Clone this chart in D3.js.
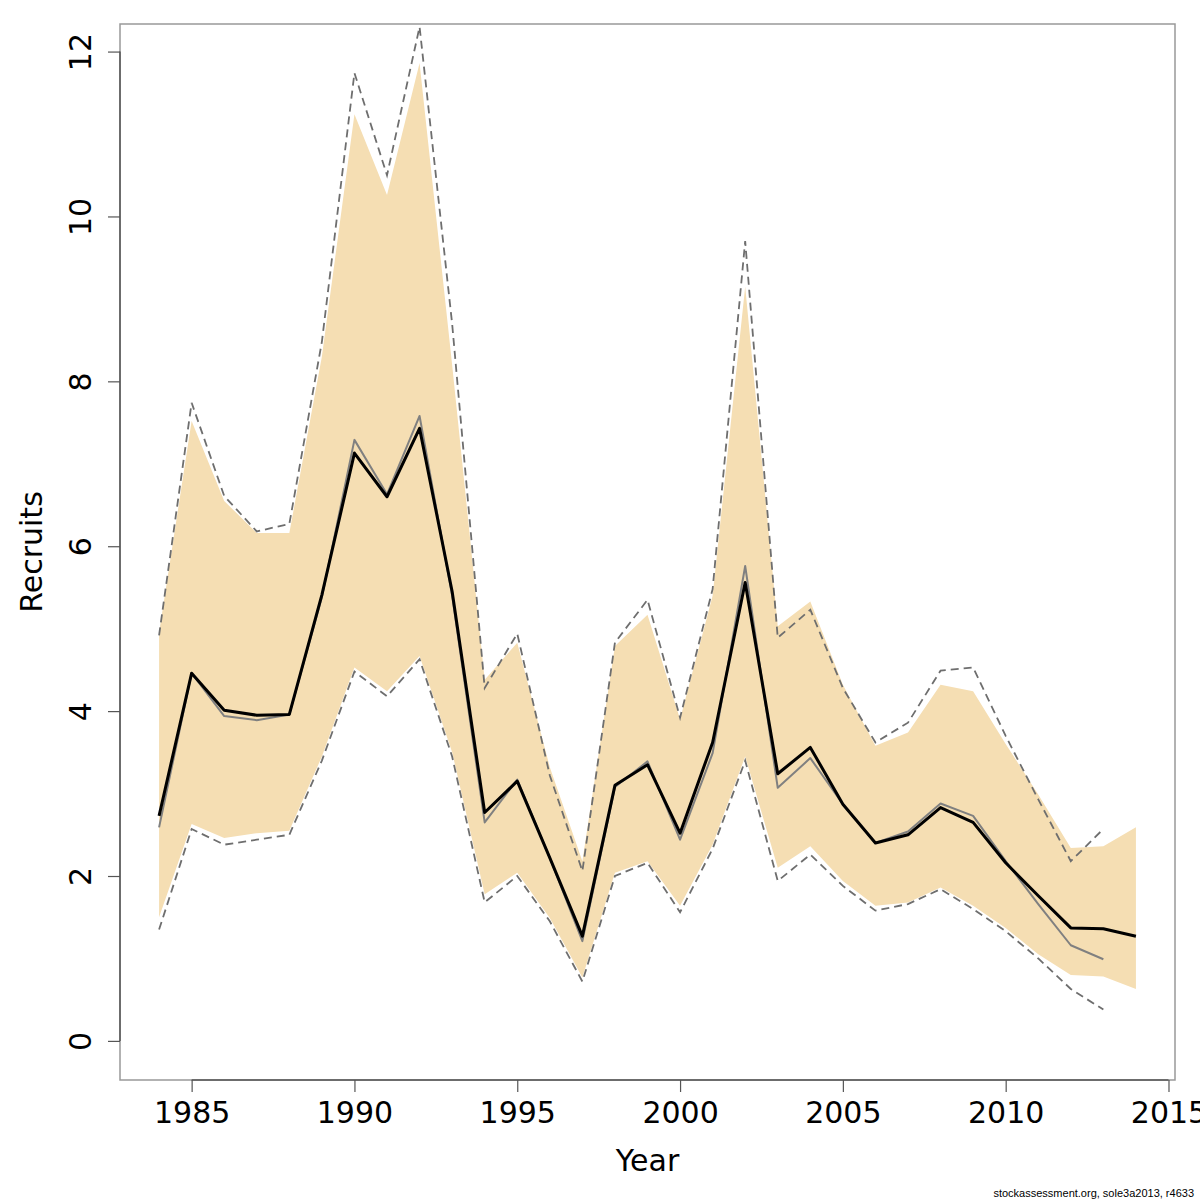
<!DOCTYPE html>
<html>
<head>
<meta charset="utf-8">
<script src="https://cdn.jsdelivr.net/npm/d3@7"></script>
<style>
  html, body { margin: 0; padding: 0; background: #fff; }
  svg { display: block; }
</style>
</head>
<body>
<svg id="chart" width="1200" height="1200"></svg>
<script>
// ---------- data ----------
const years = [1984,1985,1986,1987,1988,1989,1990,1991,1992,1993,1994,1995,1996,1997,1998,1999,
               2000,2001,2002,2003,2004,2005,2006,2007,2008,2009,2010,2011,2012,2013,2014];
// current assessment estimate
const recruits = [2.73,4.46,4.01,3.95,3.96,5.41,7.13,6.60,7.43,5.45,2.77,3.15,2.22,1.27,3.10,3.35,
                  2.52,3.62,5.56,3.24,3.56,2.87,2.40,2.50,2.83,2.65,2.16,1.76,1.37,1.36,1.27];
const ciLow = [1.50,2.63,2.46,2.52,2.55,3.45,4.53,4.24,4.67,3.50,1.78,2.04,1.49,0.77,2.04,2.18,
               1.64,2.38,3.45,2.10,2.36,1.94,1.64,1.68,1.86,1.64,1.37,1.05,0.80,0.78,0.63];
const ciHigh = [4.95,7.52,6.55,6.16,6.16,8.30,11.24,10.26,11.86,8.20,4.38,4.83,3.32,2.18,4.79,5.17,
                3.90,5.40,9.15,5.03,5.33,4.32,3.58,3.74,4.32,4.24,3.60,2.99,2.34,2.36,2.59];
// previous assessment (1984-2013)
const prevYears = years.slice(0, 30);
const prevRecruits = [2.59,4.46,3.94,3.89,3.96,5.38,7.29,6.63,7.58,5.40,2.65,3.17,2.22,1.21,3.08,3.39,
                      2.44,3.49,5.76,3.07,3.43,2.87,2.40,2.54,2.88,2.73,2.18,1.66,1.16,0.99];
const prevLow = [1.35,2.57,2.38,2.44,2.50,3.40,4.48,4.18,4.63,3.45,1.68,2.00,1.45,0.72,2.00,2.16,
                 1.56,2.33,3.40,1.94,2.26,1.88,1.58,1.66,1.84,1.60,1.33,1.00,0.63,0.38];
const prevHigh = [4.92,7.74,6.61,6.18,6.27,8.48,11.74,10.50,12.30,8.70,4.28,4.94,3.22,2.06,4.83,5.35,
                  3.92,5.48,9.70,4.89,5.23,4.28,3.62,3.86,4.49,4.53,3.70,2.93,2.18,2.57];
const xTicks = [1985,1990,1995,2000,2005,2010,2015];
const yTicks = [0,2,4,6,8,10,12];

// ---------- layout ----------
const svg = d3.select("#chart");
const L = 120, R = 1175, T = 24, B = 1080;
const xMin = d3.min(years), xMax = d3.max(years);
const yLo = 0, yHi = d3.max(ciHigh);
const xPad = 0.04 * (xMax - xMin), yPad = 0.04 * (yHi - yLo);
const x = d3.scaleLinear().domain([xMin - xPad, xMax + xPad]).range([L, R]);
const y = d3.scaleLinear().domain([yLo - yPad, yHi + yPad]).range([B, T]);

svg.append("defs").append("clipPath").attr("id", "clip")
  .append("rect").attr("x", L).attr("y", T).attr("width", R - L).attr("height", B - T);

const g = svg.append("g").attr("clip-path", "url(#clip)");

const band = years.map((yr, i) => ({ yr, lo: ciLow[i], hi: ciHigh[i] }));
g.append("path")
  .datum(band)
  .attr("fill", "#F5DEB3")
  .attr("stroke", "none")
  .attr("d", d3.area().x(d => x(d.yr)).y0(d => y(d.lo)).y1(d => y(d.hi)));

const line = d3.line().x(d => x(d[0])).y(d => y(d[1]));

[prevLow, prevHigh].forEach(arr => {
  g.append("path")
    .datum(prevYears.map((yr, i) => [yr, arr[i]]))
    .attr("fill", "none")
    .attr("stroke", "#6e6e6e")
    .attr("stroke-width", 1.8)
    .attr("stroke-dasharray", "8,5")
    .attr("d", line);
});

g.append("path")
  .datum(prevYears.map((yr, i) => [yr, prevRecruits[i]]))
  .attr("fill", "none")
  .attr("stroke", "#808080")
  .attr("stroke-width", 2)
  .attr("stroke-linejoin", "round")
  .attr("d", line);

g.append("path")
  .datum(years.map((yr, i) => [yr, recruits[i]]))
  .attr("fill", "none")
  .attr("stroke", "#000")
  .attr("stroke-width", 3)
  .attr("stroke-linejoin", "round")
  .attr("d", line);

// ---------- frame ----------
svg.append("rect")
  .attr("x", L).attr("y", T).attr("width", R - L).attr("height", B - T)
  .attr("fill", "none").attr("stroke", "#999").attr("stroke-width", 1.5);

const font = "'DejaVu Sans', sans-serif";

// x axis
const xAxis = svg.append("g").attr("transform", `translate(0,${B})`)
  .call(d3.axisBottom(x).tickValues(xTicks).tickFormat(d3.format("d")).tickSize(12).tickSizeOuter(0).tickPadding(0));
xAxis.select(".domain").remove();
xAxis.append("line")
  .attr("x1", x(xTicks[0])).attr("x2", x(xTicks[xTicks.length - 1]))
  .attr("y1", 0).attr("y2", 0).attr("stroke", "#555").attr("stroke-width", 1.5);
xAxis.selectAll(".tick line").attr("stroke", "#555").attr("stroke-width", 1.2);
xAxis.selectAll(".tick text")
  .attr("y", 43).attr("dy", null)
  .attr("fill", "#000").style("font-family", font).style("font-size", "30px");

// y axis
const yAxis = svg.append("g").attr("transform", `translate(${L},0)`)
  .call(d3.axisLeft(y).tickValues(yTicks).tickFormat(d3.format("d")).tickSize(12).tickSizeOuter(0).tickPadding(0));
yAxis.select(".domain").remove();
yAxis.append("line")
  .attr("y1", y(yTicks[0])).attr("y2", y(yTicks[yTicks.length - 1]))
  .attr("x1", 0).attr("x2", 0).attr("stroke", "#555").attr("stroke-width", 1.5);
yAxis.selectAll(".tick line").attr("stroke", "#555").attr("stroke-width", 1.2);
yAxis.selectAll(".tick text")
  .attr("x", null).attr("dy", null)
  .attr("transform", "translate(-29,0) rotate(-90)")
  .attr("text-anchor", "middle")
  .attr("fill", "#000").style("font-family", font).style("font-size", "30px");

// titles
svg.append("text")
  .attr("x", (L + R) / 2).attr("y", 1171)
  .attr("text-anchor", "middle")
  .style("font-family", font).style("font-size", "30px").attr("fill", "#000")
  .text("Year");
svg.append("text")
  .attr("transform", `translate(42,${(T + B) / 2}) rotate(-90)`)
  .attr("text-anchor", "middle")
  .style("font-family", font).style("font-size", "30px").attr("fill", "#000")
  .text("Recruits");
svg.append("text")
  .attr("x", 1194).attr("y", 1197)
  .attr("text-anchor", "end")
  .style("font-family", "'Liberation Sans', Arial, sans-serif").style("font-size", "11px").attr("fill", "#000")
  .text("stockassessment.org, sole3a2013, r4633");
</script>
</body>
</html>
